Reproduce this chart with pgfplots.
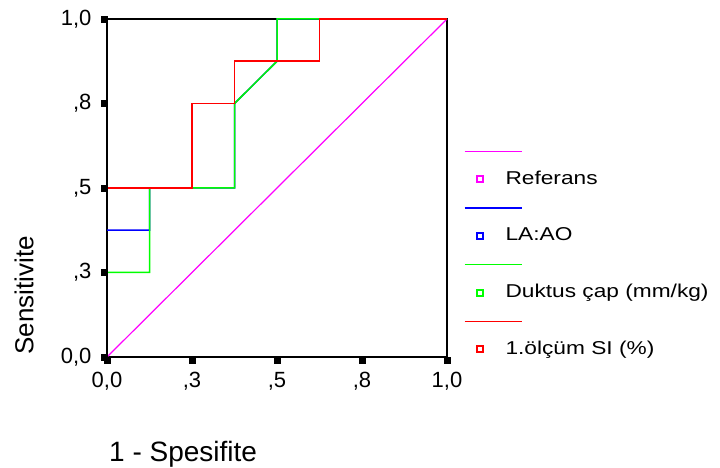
\documentclass[border=0pt]{standalone}
\usepackage{fontspec}
\setmainfont{Liberation Sans}
\newfontfamily\legfont[FakeStretch=1.22]{Liberation Sans}
\usepackage{pgfplots}
\pgfplotsset{compat=1.18}
\definecolor{cmag}{RGB}{255,0,255}
\definecolor{cblue}{RGB}{0,0,255}
\definecolor{cgreen}{RGB}{0,255,0}
\definecolor{cred}{RGB}{255,0,0}
\pgfplotsset{
  myleg/.style={legend image code/.code={
    \draw[#1,line width=1.4pt,overlay] (-15pt,28pt) -- (42pt,28pt);
    \draw[#1,line width=1.8pt] (-3pt,-3pt) rectangle (3pt,3pt);
  }},
}
\begin{document}
\begin{tikzpicture}
\path (0pt,0pt) rectangle (720pt,468pt);
\begin{axis}[
  at={(107pt,111pt)}, anchor=south west,
  width=340pt, height=338pt, scale only axis,
  clip=false,
  xmin=0, xmax=1, ymin=0, ymax=1,
  xtick={0,0.25,0.5,0.75,1},
  ytick={0,0.25,0.5,0.75,1},
  xticklabels={{0,0},{,3},{,5},{,8},{1,0}},
  yticklabels={{0,0},{,3},{,5},{,8},{1,0}},
  axis line style={line width=1.6pt},
  tick pos=left,
  tick align=outside,
  major tick length=5pt,
  major tick style={black, line width=4pt},
  tick label style={font=\fontsize{22}{24}\selectfont},
  xticklabel style={yshift=-7pt},
  yticklabel style={xshift=-7pt},
  /pgf/number format/assume math mode=true,
  xlabel={1 - Spesifite},
  ylabel={Sensitivite},
  xlabel style={font=\fontsize{28}{30}\selectfont, inner sep=0pt, at={(rel axis cs:0.006,-0.287)}, anchor=west},
  ylabel style={font=\fontsize{26}{28}\selectfont, inner sep=0pt, at={(rel axis cs:-0.244,0.006)}, anchor=west},
  legend style={draw=none, fill=none, at={(rel axis cs:1.084,0.559)}, anchor=north west,
    inner sep=0pt, row sep=34.7pt, font=\legfont\fontsize{18.6}{20}\selectfont,
    nodes={text height=14pt, text depth=4pt},
    cells={anchor=west}},
]
\addplot[cmag, line width=1.2pt, myleg] coordinates {(0,0) (1,1)};
\addlegendentry{\hspace{20pt}Referans}
\addplot[cblue, line width=1.5pt, myleg] coordinates {(0,0.375) (0.125,0.375) (0.125,0.5) (0.375,0.5) (0.375,0.75) (0.5,0.875) (0.5,1) (1,1)};
\addlegendentry{\hspace{20pt}LA:AO}
\addplot[cgreen, line width=1.5pt, myleg] coordinates {(0,0.25) (0.125,0.25) (0.125,0.5) (0.375,0.5) (0.375,0.75) (0.5,0.875) (0.5,1) (1,1)};
\addlegendentry{\hspace{20pt}Duktus çap (mm/kg)}
\addplot[cred, line width=1.5pt, myleg] coordinates {(0,0.5) (0.25,0.5) (0.25,0.75) (0.375,0.75) (0.375,0.875) (0.625,0.875) (0.625,1) (1,1)};
\addlegendentry{\hspace{20pt}1.ölçüm SI (\%)}
% tick marks drawn as square markers just outside the axis box
\addplot[only marks, mark=square*, mark size=2.8pt, black, forget plot]
  coordinates {(0,-0.009) (0.25,-0.009) (0.5,-0.009) (0.75,-0.009) (1,-0.009)};
\addplot[only marks, mark=square*, mark size=2.8pt, black, forget plot]
  coordinates {(-0.009,0) (-0.009,0.25) (-0.009,0.5) (-0.009,0.75) (-0.009,1)};
\end{axis}
\end{tikzpicture}
\end{document}
